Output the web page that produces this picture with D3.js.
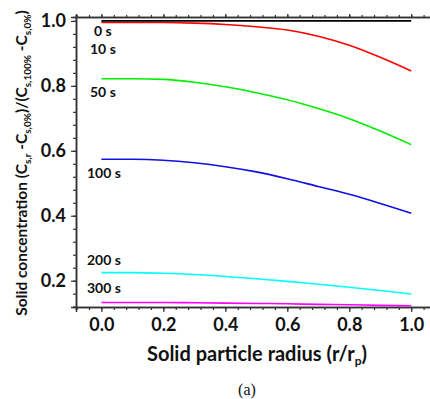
<!DOCTYPE html>
<html>
<head>
<meta charset="utf-8">
<script src="https://cdn.jsdelivr.net/npm/d3@7"></script>
<style>
  body { margin: 0; background: #fff; }
  text { font-family: Lato, "Open Sans", sans-serif; font-weight: bold; fill: #111; }
</style>
</head>
<body>
<script>
// radius positions (r/rp)
var radius = [0, 0.1, 0.2, 0.3, 0.4, 0.5, 0.6, 0.7, 0.8, 0.9, 1.0];

// normalised solid concentration at each time
var conc0s   = [1.0, 1.0, 1.0, 1.0, 1.0, 1.0, 1.0, 1.0, 1.0, 1.0, 1.0];
var conc10s  = [0.995, 0.995, 0.995, 0.993, 0.989, 0.982, 0.972, 0.953, 0.925, 0.888, 0.846];
var conc50s  = [0.822, 0.822, 0.820, 0.811, 0.797, 0.779, 0.757, 0.730, 0.699, 0.661, 0.619];
var conc100s = [0.574, 0.574, 0.571, 0.563, 0.551, 0.535, 0.514, 0.490, 0.466, 0.438, 0.408];
var conc200s = [0.225, 0.225, 0.223, 0.219, 0.213, 0.206, 0.198, 0.189, 0.180, 0.170, 0.159];
var conc300s = [0.133, 0.133, 0.133, 0.132, 0.131, 0.130, 0.129, 0.127, 0.126, 0.124, 0.123];

var seriesNames = ['10 s', '50 s', '100 s', '200 s', '300 s', '0 s'];
var seriesColors = ['#ff0000', '#00ee00', '#1010e0', '#00ffff', '#ff00ff', '#000000'];
var seriesValues = [conc10s, conc50s, conc100s, conc200s, conc300s, conc0s];

var xMajor = [0, 0.2, 0.4, 0.6, 0.8, 1.0];
var yMajor = [0.2, 0.4, 0.6, 0.8, 1.0];

var width = 430, height = 399;
var svg = d3.select('body').append('svg')
    .attr('width', width)
    .attr('height', height);

var x = d3.scaleLinear().domain([-0.082, 1.08]).range([76, 436]);
var y = d3.scaleLinear().domain([0.119, 1.012]).range([307, 17]);

var xMinor = d3.range(-0.08, 1.081, 0.04).map(function(d) { return +d.toFixed(2); });
var yMinor = d3.range(0.12, 1.01, 0.04).map(function(d) { return +d.toFixed(2); });

var axisColor = '#333';

// minor ticks first
svg.append('g').attr('transform', 'translate(0,307)')
    .call(d3.axisBottom(x).tickValues(xMinor).tickSize(3).tickFormat(''));
svg.append('g').attr('transform', 'translate(0,17)')
    .call(d3.axisTop(x).tickValues(xMinor).tickSize(2).tickFormat(''));
svg.append('g').attr('transform', 'translate(76,0)')
    .call(d3.axisLeft(y).tickValues(yMinor).tickSize(3).tickFormat(''));

// major ticks with labels
var xAxis = svg.append('g').attr('transform', 'translate(0,307)')
    .call(d3.axisBottom(x).tickValues(xMajor).tickSize(5).tickPadding(6).tickFormat(d3.format('.1f')));
svg.append('g').attr('transform', 'translate(0,17)')
    .call(d3.axisTop(x).tickValues(xMajor).tickSize(3).tickFormat(''));
var yAxis = svg.append('g').attr('transform', 'translate(76,0)')
    .call(d3.axisLeft(y).tickValues(yMajor).tickSize(5).tickPadding(5).tickFormat(d3.format('.1f')));

svg.selectAll('.domain').attr('stroke', axisColor).attr('stroke-width', 1.5);
svg.selectAll('.tick line').attr('stroke', axisColor).attr('stroke-width', 1.2);
svg.selectAll('.tick text').attr('font-size', 18).attr('fill', '#111');

// data lines
var line = d3.line()
    .x(function(d) { return x(d[0]); })
    .y(function(d) { return y(d[1]); })
    .curve(d3.curveMonotoneX);

seriesValues.forEach(function(vals, i) {
    var pts = radius.map(function(r, j) { return [r, vals[j]]; });
    svg.append('path')
        .attr('d', line(pts))
        .attr('fill', 'none')
        .attr('stroke', seriesColors[i])
        .attr('stroke-width', 1.6);
});

// curve labels
var labelPos = [
    { name: '0 s', x: 94, y: 36 },
    { name: '10 s', x: 90, y: 54 },
    { name: '50 s', x: 90, y: 97 },
    { name: '100 s', x: 87, y: 178 },
    { name: '200 s', x: 87, y: 265 },
    { name: '300 s', x: 87, y: 293 }
];
svg.append('g').selectAll('text').data(labelPos).enter()
    .append('text')
    .attr('x', function(d) { return d.x; })
    .attr('y', function(d) { return d.y; })
    .attr('font-size', 14)
    .text(function(d) { return d.name; });

// x axis title
var xt = svg.append('text')
    .attr('x', 257).attr('y', 361)
    .attr('text-anchor', 'middle')
    .attr('font-size', 20);
xt.append('tspan').text('Solid particle radius (r/r');
xt.append('tspan').attr('font-size', 12).attr('dy', 4).text('p');
xt.append('tspan').attr('dy', -4).text(')');

// y axis title
var yt = svg.append('text')
    .attr('transform', 'translate(27,163) rotate(-90)')
    .attr('text-anchor', 'middle')
    .attr('font-size', 15.5);
function sub(txt) {
    yt.append('tspan').attr('font-size', 10).attr('dy', 4).text(txt);
}
function norm(txt) {
    yt.append('tspan').attr('dy', -4).text(txt);
}
yt.append('tspan').text('Solid concentration (C');
sub('s,r'); norm(' -C'); sub('s,0%'); norm(')/(C'); sub('s,100%'); norm(' -C'); sub('s,0%'); norm(')');

// panel label
svg.append('text')
    .attr('x', 247).attr('y', 395)
    .attr('text-anchor', 'middle')
    .style('font-family', '"Liberation Serif", "Times New Roman", serif')
    .style('font-weight', 'normal')
    .attr('font-size', 16)
    .text('(a)');
</script>
</body>
</html>
